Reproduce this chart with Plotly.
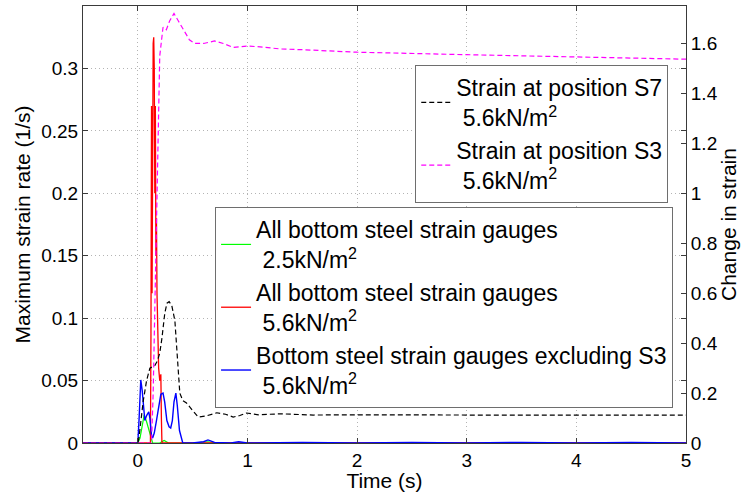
import plotly.graph_objects as go

# ---- data ----
t_green = [-0.5, 0.0, 0.02, 0.04, 0.058, 0.08, 0.10, 0.12, 0.135, 0.2, 0.24, 0.28, 0.5, 0.64, 0.72, 1.0, 5.0]
v_green = [0, 0, 0.004, 0.015, 0.0225, 0.017, 0.010, 0.004, 0.0, 0.0, 0.002, 0.0, 0.0, 0.001, 0.0, 0.0, 0.0]

t_red = [-0.5, 0.11, 0.115, 0.12, 0.125, 0.13, 0.135, 0.14, 0.145, 0.15, 0.155, 0.16, 0.165, 0.17,
         0.175, 0.18, 0.19, 0.2, 0.21, 0.215, 0.22, 1.0, 2.0, 3.0, 4.0, 5.0]
v_red = [0, 0, 0.0, 0.088, 0.27, 0.12, 0.25, 0.32, 0.325, 0.30, 0.20, 0.27, 0.15, 0.18,
         0.12, 0.09, 0.06, 0.05, 0.055, 0.02, 0.0, 0.0, 0.0, 0.0, 0.0, 0.0]

t_blue = [-0.5, 0.0, 0.012, 0.027, 0.04, 0.055, 0.064, 0.08, 0.10, 0.11, 0.125, 0.135, 0.15, 0.17,
          0.19, 0.21, 0.23, 0.245, 0.265, 0.285, 0.30, 0.315, 0.33, 0.347, 0.36, 0.38, 0.41,
          0.5, 0.6, 0.64, 0.7, 0.85, 0.92, 1.0, 1.5, 2.0, 2.5, 3.0, 3.5, 4.0, 4.5, 5.0]
v_blue = [0, 0, 0.02, 0.0505, 0.042, 0.022, 0.018, 0.022, 0.025, 0.02, 0.006, 0.004, 0.008, 0.018,
          0.03, 0.039, 0.040, 0.033, 0.018, 0.013, 0.012, 0.018, 0.033, 0.040, 0.030, 0.010, 0.0,
          0.0, 0.001, 0.0025, 0.0005, 0.0, 0.001, 0.0, 0.0005, 0.0, 0.0005, 0.0, 0.0005, 0.0, 0.0005, 0.0]

t_s7 = [-0.5, 0.0, 0.01, 0.03, 0.05, 0.08, 0.11, 0.155, 0.18, 0.2, 0.22, 0.246, 0.266, 0.286, 0.31,
        0.338, 0.36, 0.383, 0.41, 0.444, 0.5, 0.55, 0.62, 0.72, 0.8, 0.87, 0.93, 0.99, 1.1, 1.3,
        1.6, 2.0, 3.0, 4.0, 5.0]
v_s7 = [0, 0, 0.02, 0.1, 0.17, 0.25, 0.30, 0.31, 0.33, 0.36, 0.42, 0.52, 0.56, 0.566, 0.55,
        0.49, 0.35, 0.20, 0.17, 0.16, 0.13, 0.104, 0.108, 0.121, 0.115, 0.104, 0.11, 0.12, 0.113, 0.117,
        0.112, 0.113, 0.112, 0.112, 0.112]

t_s3 = [-0.5, 0.1, 0.125, 0.14, 0.155, 0.176, 0.2, 0.23, 0.26, 0.29, 0.33, 0.37, 0.42, 0.47, 0.52,
        0.6, 0.7, 0.78, 0.87, 1.0, 1.15, 1.3, 1.5, 2.0, 3.0, 4.0, 5.0]
v_s3 = [0, 0, 0.0, 0.2, 0.57, 1.1, 1.55, 1.665, 1.655, 1.69, 1.72, 1.69, 1.65, 1.615, 1.60,
        1.60, 1.61, 1.60, 1.584, 1.59, 1.585, 1.578, 1.575, 1.565, 1.555, 1.545, 1.537]

x_ticks = [0, 1, 2, 3, 4, 5]
y1_ticks = [0, 0.05, 0.1, 0.15, 0.2, 0.25, 0.3]
y1_labels = ["0", "0.05", "0.1", "0.15", "0.2", "0.25", "0.3"]
y2_ticks = [0, 0.2, 0.4, 0.6, 0.8, 1.0, 1.2, 1.4, 1.6]
y2_labels = ["0", "0.2", "0.4", "0.6", "0.8", "1", "1.2", "1.4", "1.6"]

NB = "\u00a0"
name_green = "All bottom steel strain gauges<br>" + NB + "2.5kN/m<sup>2</sup>"
name_red = "All bottom steel strain gauges<br>" + NB + "5.6kN/m<sup>2</sup>"
name_blue = "Bottom steel strain gauges excluding S3<br>" + NB + "5.6kN/m<sup>2</sup>"
name_s7 = "Strain at position S7<br>" + NB + "5.6kN/m<sup>2</sup>"
name_s3 = "Strain at position S3<br>" + NB + "5.6kN/m<sup>2</sup>"

FONT = "Liberation Sans, Arial, sans-serif"

fig = go.Figure()
fig.add_trace(go.Scatter(x=t_green, y=v_green, mode="lines", name=name_green,
                         line=dict(color="#00ff00", width=1.2), legend="legend2"))
fig.add_trace(go.Scatter(x=t_red, y=v_red, mode="lines", name=name_red,
                         line=dict(color="#ff0000", width=1.3), legend="legend2"))
fig.add_trace(go.Scatter(x=t_blue, y=v_blue, mode="lines", name=name_blue,
                         line=dict(color="#0000ff", width=1.4), legend="legend2"))
fig.add_trace(go.Scatter(x=t_s7, y=v_s7, mode="lines", name=name_s7, yaxis="y2",
                         line=dict(color="#000000", width=1.2, dash="5px,3px"), legend="legend"))
fig.add_trace(go.Scatter(x=t_s3, y=v_s3, mode="lines", name=name_s3, yaxis="y2",
                         line=dict(color="#ff00ff", width=1.2, dash="5px,3px"), legend="legend"))

axis_common = dict(showline=True, linecolor="#3a3a3a", linewidth=1, ticks="inside", ticklen=5,
                   tickcolor="#3a3a3a", zeroline=False, tickfont=dict(size=19, color="black"))

fig.update_layout(
    width=742, height=492,
    margin=dict(l=83, r=56, t=6, b=49),
    paper_bgcolor="white", plot_bgcolor="white",
    font=dict(family=FONT, color="black"),
    xaxis=dict(range=[-0.5, 5], tickvals=x_ticks, mirror="ticks", showgrid=True,
               gridcolor="#b4b4b4", griddash="1px,3px", gridwidth=1,
               title=dict(text="Time (s)", font=dict(size=21), standoff=0), **axis_common),
    yaxis=dict(range=[0, 0.35], tickvals=y1_ticks, ticktext=y1_labels, mirror="ticks", showgrid=True,
               gridcolor="#b4b4b4", griddash="1px,3px", gridwidth=1,
               title=dict(text="Maximum strain rate (1/s)", font=dict(size=21), standoff=4), **axis_common),
    yaxis2=dict(range=[0, 1.75], tickvals=y2_ticks, ticktext=y2_labels, overlaying="y", side="right",
                showgrid=False,
                title=dict(text="Change in strain", font=dict(size=21), standoff=2), **axis_common),
    legend=dict(x=0.551, y=0.865, xanchor="left", yanchor="top", bgcolor="white",
                bordercolor="#6e6e6e", borderwidth=1, font=dict(size=23), tracegroupgap=0,
                itemwidth=30),
    legend2=dict(x=0.219, y=0.540, xanchor="left", yanchor="top", bgcolor="white",
                 bordercolor="#6e6e6e", borderwidth=1, font=dict(size=23), tracegroupgap=0,
                 itemwidth=30),
)

fig.write_html("out.html")
